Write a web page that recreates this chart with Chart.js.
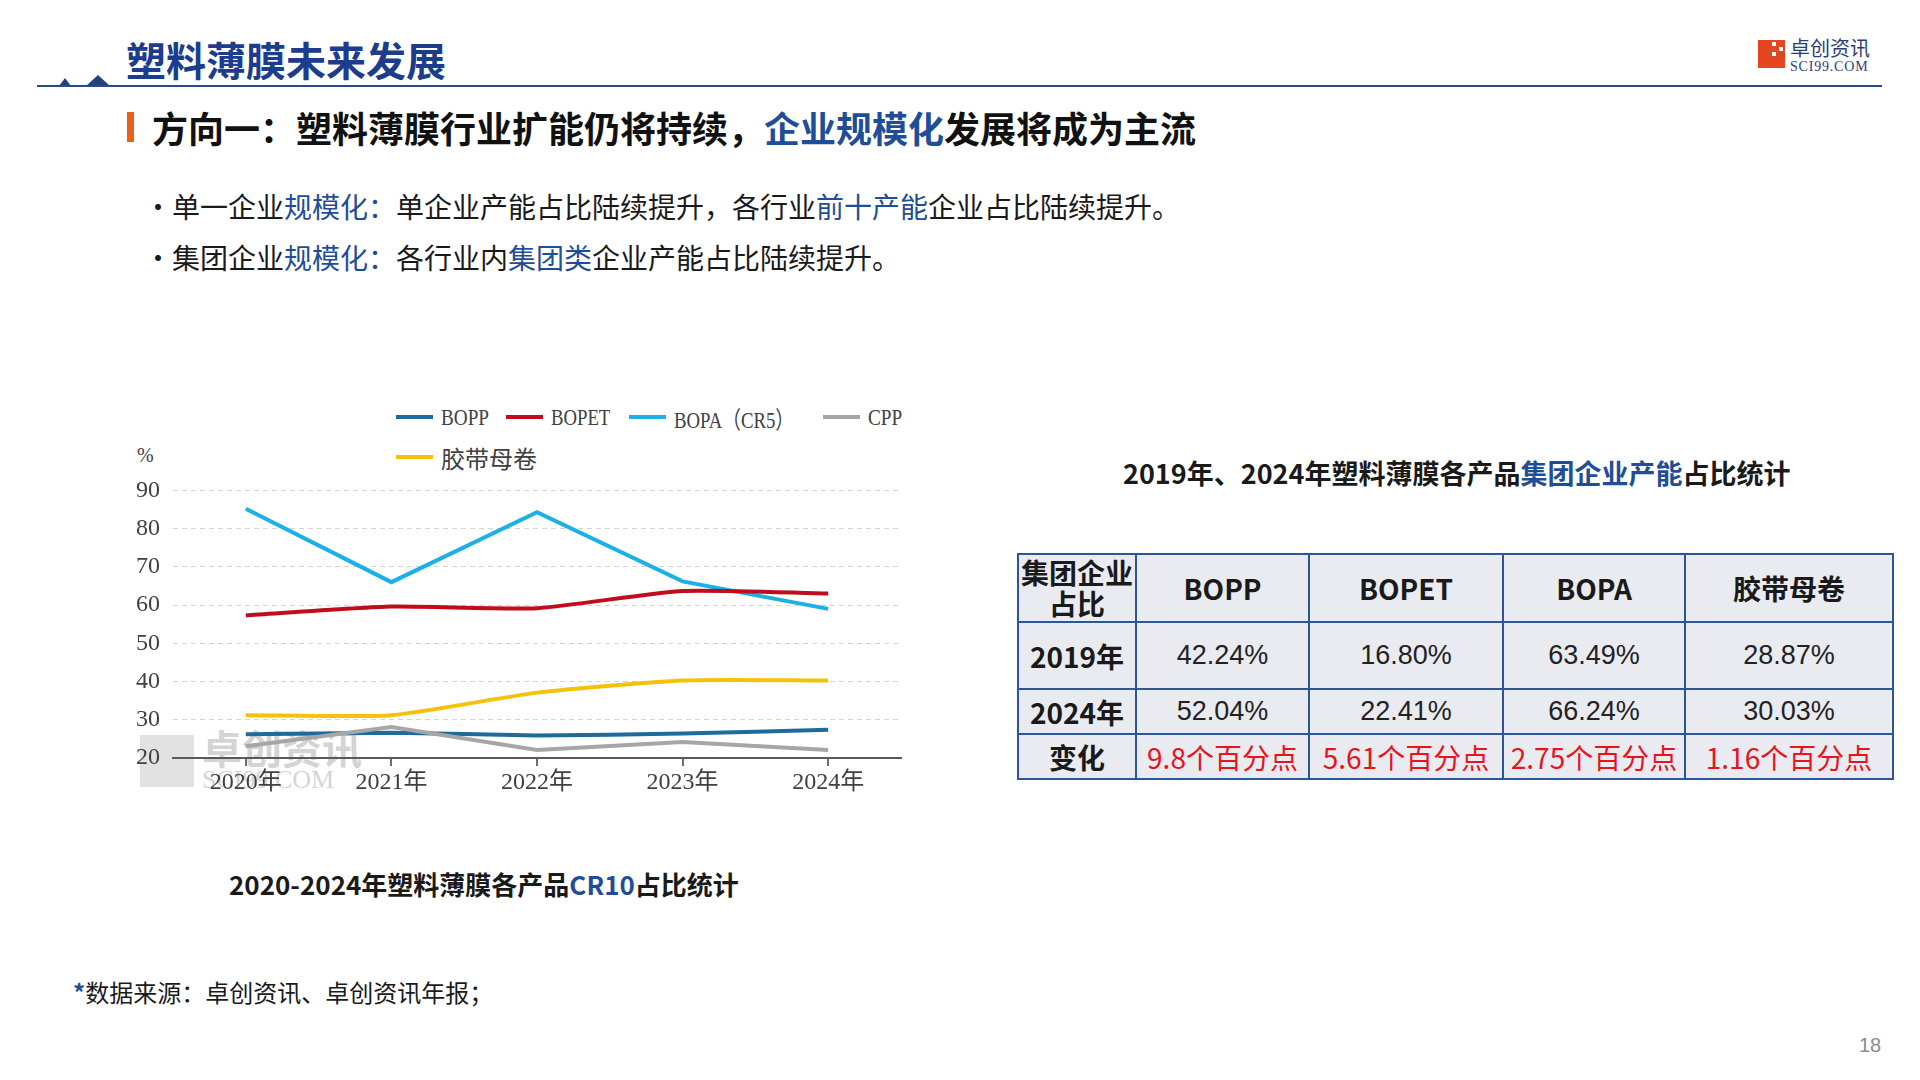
<!DOCTYPE html>
<html>
<head>
<meta charset="utf-8">
<script src="https://cdn.jsdelivr.net/npm/chart.js@4.4.0/dist/chart.umd.min.js"></script>
<style>
  body { margin:0; width:1920px; height:1080px; background:#fff; position:relative; overflow:hidden;
         font-family:'Noto Sans CJK SC','Noto Sans',sans-serif; color:#1a1a1a; }
  .abs { position:absolute; white-space:nowrap; line-height:1; }
  .blue { color:#1f4e99; }
  .tri { position:absolute; width:0; height:0; border-style:solid; border-color:transparent transparent #22427f transparent; }
  #legend .item { position:absolute; display:flex; align-items:center; height:24px; }
  #legend .swatch { width:37px; height:4px; margin-right:8px; }
  #legend .txt { font-family:'Liberation Serif','Noto Sans CJK SC',serif; font-size:24px; color:#404040;
                 display:inline-block; transform-origin:left center; }
  table { position:absolute; left:1017px; top:553px; width:875px; table-layout:fixed; border-collapse:collapse; background:#e9ebf0; }
  td { border:2px solid #2e5597; text-align:center; padding:0; font-size:28px; white-space:nowrap; }
  td.hd { font-weight:bold; }
  td.num { font-family:'Liberation Sans Narrow','Liberation Sans',sans-serif; font-size:27px; color:#222; }
  td.red { color:#e8141b; }
</style>
</head>
<body>
<!-- header -->
<div class="abs" style="left:126px;top:39px;font-size:40px;font-weight:bold;color:#1c3c8c;">塑料薄膜未来发展</div>
<div class="tri" style="left:59px;top:78px;border-width:0 6px 8px 6px;"></div>
<div class="tri" style="left:86px;top:75px;border-width:0 12px 11px 12px;"></div>
<div style="position:absolute;left:37px;top:85px;width:1845px;height:2px;background:#2b4a8a;"></div>
<div style="position:absolute;left:1758px;top:40px;width:27px;height:28px;background:#e5461f;"></div>
<div style="position:absolute;left:1772px;top:42px;width:4px;height:4px;background:#fff;"></div>
<div style="position:absolute;left:1779px;top:47px;width:4px;height:4px;background:#fff;"></div>
<div style="position:absolute;left:1772px;top:52px;width:4px;height:4px;background:#fff;"></div>
<div class="abs" style="left:1790px;top:38px;font-size:20px;color:#2a3f7a;">卓创资讯</div>
<div class="abs" style="left:1790px;top:60px;font-size:14px;font-family:'Liberation Serif',serif;color:#2a3f7a;letter-spacing:0.8px;">SCI99.COM</div>

<div style="position:absolute;left:127px;top:112px;width:7px;height:30px;background:#e8601c;"></div>
<div class="abs" style="left:152px;top:109px;font-size:36px;font-weight:bold;color:#111;">方向一：塑料薄膜行业扩能仍将持续，<span class="blue">企业规模化</span>发展将成为主流</div>

<div class="abs" style="left:144px;top:192px;font-size:28px;">·单一企业<span class="blue">规模化：</span>单企业产能占比陆续提升，各行业<span class="blue">前十产能</span>企业占比陆续提升。</div>
<div class="abs" style="left:144px;top:243px;font-size:28px;">·集团企业<span class="blue">规模化：</span>各行业内<span class="blue">集团类</span>企业产能占比陆续提升。</div>

<!-- chart -->
<div style="position:absolute;left:140px;top:735px;width:54px;height:52px;background:rgba(190,190,190,0.45);"></div>
<div class="abs" style="left:202px;top:727px;font-size:40px;color:rgba(170,170,170,0.5);font-weight:bold;">卓创资讯</div>
<div class="abs" style="left:202px;top:767px;font-size:26px;font-family:'Liberation Serif',serif;color:rgba(170,170,170,0.5);">SCI99.COM</div>

<div class="abs" style="left:137px;top:445px;font-size:20px;font-family:'Liberation Serif',serif;color:#404040;">%</div>
<div id="legend"></div>
<div style="position:absolute;left:100px;top:463px;width:830px;height:347px;z-index:2;">
  <canvas id="lineChart"></canvas>
</div>

<div class="abs" style="left:229px;top:871px;font-size:26px;font-weight:bold;">2020-2024年塑料薄膜各产品<span class="blue">CR10</span>占比统计</div>

<!-- table -->
<div class="abs" style="left:1123px;top:459px;font-size:27px;font-weight:bold;">2019年、2024年塑料薄膜各产品<span class="blue">集团企业产能</span>占比统计</div>
<table id="shareTable"></table>

<div class="abs" style="left:73px;top:980px;font-size:24px;"><span style="color:#1f4e99;font-weight:bold;">*</span>数据来源：卓创资讯、卓创资讯年报；</div>
<div class="abs" style="left:1859px;top:1035px;font-size:20px;color:#8c8c8c;font-family:'Liberation Sans',sans-serif;">18</div>

<script>
// CR10 share, %
const years = ['2020年', '2021年', '2022年', '2023年', '2024年'];
const boppShare = [26.2, 26.6, 25.9, 26.4, 27.4];
const bopetShare = [57.3, 59.6, 59.2, 63.7, 63.0];
const bopaShare = [85.2, 66.0, 84.3, 66.2, 59.0];
const cppShare = [23.1, 28.1, 22.1, 24.2, 22.1];
const tapeShare = [31.2, 31.2, 37.1, 40.3, 40.3];
const seriesNames = ['BOPP', 'BOPET', 'BOPA（CR5）', 'CPP', '胶带母卷'];
const seriesColors = ['#1d6a9b', '#c00d1e', '#1cb0e6', '#a6a6a6', '#f5c20a'];

// group-company share table
const productNames = ['BOPP', 'BOPET', 'BOPA', '胶带母卷'];
const share2019 = ['42.24%', '16.80%', '63.49%', '28.87%'];
const share2024 = ['52.04%', '22.41%', '66.24%', '30.03%'];
const shareChange = ['9.8个百分点', '5.61个百分点', '2.75个百分点', '1.16个百分点'];

const allSeries = [boppShare, bopetShare, bopaShare, cppShare, tapeShare];
const tensions = [0.2, 0.2, 0, 0, 0.2];

// legend, laid out like the original (two rows, left aligned)
const legendLeft = [396, 506, 629, 823, 396];
const legendTop = [405, 405, 405, 405, 445];
const legendScale = [0.8, 0.78, 0.78, 0.8, 1];
const legend = document.getElementById('legend');
seriesNames.forEach((name, i) => {
  const item = document.createElement('div');
  item.className = 'item';
  item.style.left = legendLeft[i] + 'px';
  item.style.top = legendTop[i] + 'px';
  item.innerHTML = '<span class="swatch" style="background:' + seriesColors[i] + '"></span>' +
    '<span class="txt" style="transform:scaleX(' + legendScale[i] + ')">' + name + '</span>';
  legend.appendChild(item);
});

const tickFont = { family: "'Liberation Serif','Noto Sans CJK SC',serif", size: 24 };

new Chart(document.getElementById('lineChart').getContext('2d'), {
  type: 'line',
  data: {
    labels: years,
    datasets: seriesNames.map((name, i) => ({
      label: name,
      data: allSeries[i],
      borderColor: seriesColors[i],
      backgroundColor: seriesColors[i],
      borderWidth: 4,
      pointRadius: 0,
      tension: tensions[i],
      fill: false,
      order: i === 3 ? 0 : i + 1
    }))
  },
  options: {
    responsive: true,
    maintainAspectRatio: false,
    animation: false,
    layout: { padding: { top: 12, right: 29, left: 0, bottom: 0 } },
    plugins: { legend: { display: false }, tooltip: { enabled: false } },
    scales: {
      x: {
        offset: true,
        grid: { drawOnChartArea: false, drawTicks: true, tickLength: 8, color: '#6e6e6e', lineWidth: 2 },
        border: { display: true, color: '#595959', width: 2 },
        ticks: { font: tickFont, color: '#404040', padding: 2, maxRotation: 0 },
        afterFit: s => { s.height = 52; }
      },
      y: {
        min: 20,
        max: 90,
        ticks: { stepSize: 10, padding: 13, font: tickFont, color: '#404040' },
        grid: { color: '#d4d4d4', lineWidth: 1, drawTicks: false },
        border: { display: false, dash: [5, 4] },
        afterFit: s => { s.width = 73; }
      }
    }
  }
});

// table
const colWidths = [118, 173, 194, 182, 208];
const rowHeights = [68, 67, 45, 45];
const table = document.getElementById('shareTable');
const colgroup = document.createElement('colgroup');
colWidths.forEach(w => {
  const col = document.createElement('col');
  col.style.width = w + 'px';
  colgroup.appendChild(col);
});
table.appendChild(colgroup);
function addRow(cells, h, cls) {
  const tr = document.createElement('tr');
  tr.style.height = h + 'px';
  cells.forEach((c, j) => {
    const td = document.createElement('td');
    td.innerHTML = c;
    td.className = j === 0 ? 'hd' : cls;
    tr.appendChild(td);
  });
  table.appendChild(tr);
}
addRow(['<div style="line-height:31px">集团企业<br>占比</div>'].concat(productNames), rowHeights[0], 'hd');
addRow(['2019年'].concat(share2019), rowHeights[1], 'num');
addRow(['2024年'].concat(share2024), rowHeights[2], 'num');
addRow(['变化'].concat(shareChange), rowHeights[3], 'red');
</script>
</body>
</html>
